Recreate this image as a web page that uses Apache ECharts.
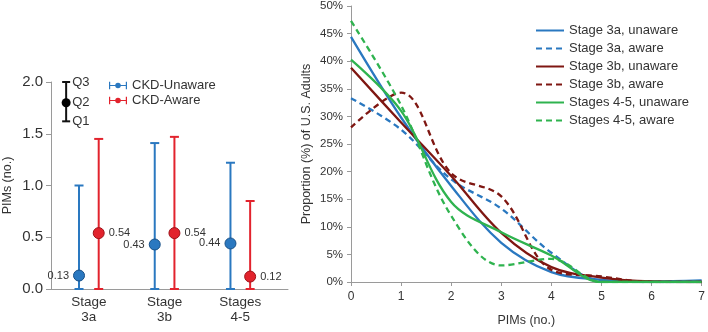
<!DOCTYPE html>
<html>
<head>
<meta charset="utf-8">
<script src="https://cdn.jsdelivr.net/npm/echarts@6/dist/echarts.min.js"></script>
<style>
  html, body { margin: 0; padding: 0; background: #fff; }
  #chart { width: 708px; height: 332px; }
</style>
</head>
<body>
<div id="chart"></div>
<script>
// left panel: median and IQR of PIMs by CKD stage
const stages = ['Stage\n3a', 'Stage\n3b', 'Stages\n4-5'];
const unawareMedian = [0.13, 0.43, 0.44];
const unawareQ1 = [0, 0, 0];
const unawareQ3 = [1.0, 1.41, 1.22];
const awareMedian = [0.54, 0.54, 0.12];
const awareQ1 = [0, 0, 0];
const awareQ3 = [1.45, 1.47, 0.85];
const keyQuartiles = [1.62, 1.8, 2.0]; // Q1, Q2, Q3 of the key

// right panel: distribution of PIM counts
const pimCounts = [0, 1, 2, 3, 4, 5, 6, 7];
const s3aUnaware = [44.4, 29.8, 17.4, 7.1, 1.8, 0.4, 0.1, 0.3];
const s3aAware = [33.3, 27.6, 18.6, 13.3, 5.3, 0.2, 0.0, 0.0];
const s3bUnaware = [38.8, 28.9, 19.2, 8.9, 2.7, 0.8, 0.1, 0.0];
const s3bAware = [28.0, 34.3, 19.7, 15.5, 2.2, 1.0, 0.0, 0.0];
const s45Unaware = [40.3, 31.0, 14.5, 9.0, 4.8, 0.0, 0.0, 0.0];
const s45Aware = [47.3, 32.0, 12.0, 3.0, 4.2, 0.0, 0.0, 0.0];

const BLUE = '#2a78c0';
const RED = '#e2232d';
const MAROON = '#7f1712';
const GREEN = '#2fb34f';
const TXT = '#333333';
const AXIS = '#9a9a9a';
const FONT = '"Liberation Sans", Arial, sans-serif';

const myChart = echarts.init(document.getElementById('chart'));

function errorBar(color) {
  return function (params, api) {
    const x = api.value(0);
    const lo = api.coord([x, api.value(1)]);
    const hi = api.coord([x, api.value(2)]);
    const st = { stroke: color, lineWidth: 2 };
    return {
      type: 'group',
      children: [
        { type: 'line', shape: { x1: lo[0], y1: lo[1], x2: hi[0], y2: hi[1] }, style: st },
        { type: 'line', shape: { x1: hi[0] - 4.5, y1: hi[1], x2: hi[0] + 4.5, y2: hi[1] }, style: st },
        { type: 'line', shape: { x1: lo[0] - 4.5, y1: lo[1], x2: lo[0] + 4.5, y2: lo[1] }, style: st }
      ]
    };
  };
}

function keyItem(params, api) {
  const x = api.value(0);
  const q1 = api.coord([x, api.value(1)]);
  const q2 = api.coord([x, api.value(2)]);
  const q3 = api.coord([x, api.value(3)]);
  const st = { stroke: '#111', lineWidth: 2 };
  const tx = (t, p) => ({
    type: 'text', x: p[0] + 6, y: p[1],
    style: { text: t, fill: TXT, font: '13px ' + FONT, textVerticalAlign: 'middle' }
  });
  return {
    type: 'group',
    children: [
      { type: 'line', shape: { x1: q1[0], y1: q1[1], x2: q3[0], y2: q3[1] }, style: st },
      { type: 'line', shape: { x1: q3[0] - 4, y1: q3[1], x2: q3[0] + 4, y2: q3[1] }, style: st },
      { type: 'line', shape: { x1: q1[0] - 4, y1: q1[1], x2: q1[0] + 4, y2: q1[1] }, style: st },
      { type: 'circle', shape: { cx: q2[0], cy: q2[1], r: 4.5 }, style: { fill: '#000' } },
      tx('Q3', q3), tx('Q2', q2), tx('Q1', q1)
    ]
  };
}

const shift = 0.13;
const unawareX = stages.map((s, i) => i + 0.5 - shift);
const awareX = stages.map((s, i) => i + 0.5 + shift);
const barIcon = 'path://M0,0h1.6v10h-1.6z M22.4,0h1.6v10h-1.6z M0,4.3h24v1.4h-24z M12,1.3a3.7,3.7 0 1,1 -0.01,0z';

const lineDefs = [
  ['Stage 3a, unaware', s3aUnaware, BLUE, 'solid'],
  ['Stage 3a, aware', s3aAware, BLUE, [6, 4]],
  ['Stage 3b, unaware', s3bUnaware, MAROON, 'solid'],
  ['Stage 3b, aware', s3bAware, MAROON, [6, 4]],
  ['Stages 4-5, unaware', s45Unaware, GREEN, 'solid'],
  ['Stages 4-5, aware', s45Aware, GREEN, [6, 4]]
];

let option = {
  animation: false,
  textStyle: { fontFamily: FONT },
  legend: [
    {
      data: ['CKD-Unaware', 'CKD-Aware'],
      left: 104, top: 74, orient: 'vertical', itemGap: 2,
      itemWidth: 18, itemHeight: 8, icon: barIcon,
      textStyle: { fontSize: 13, color: TXT, fontFamily: FONT }
    },
    {
      data: lineDefs.map(d => d[0]),
      left: 530, top: 19, orient: 'vertical', itemGap: 5,
      itemWidth: 28, itemHeight: 13,
      itemStyle: { opacity: 0 },
      textStyle: { fontSize: 13, color: TXT, fontFamily: FONT }
    }
  ],
  grid: [
    { left: 47, top: 82, width: 241, height: 207 },
    { left: 351, top: 5, width: 353, height: 284 }
  ],
  xAxis: [
    {
      gridIndex: 0, type: 'value', min: 0, max: 241 / 77,
      splitLine: { show: false },
      axisLine: { lineStyle: { color: AXIS } },
      axisTick: { show: false },
      axisLabel: {
        customValues: [0.5, 1.5, 2.5],
        formatter: v => stages[Math.round(v - 0.5)] || '',
        fontSize: 13.5, color: TXT, lineHeight: 15, margin: 6
      }
    },
    {
      gridIndex: 1, type: 'value', min: 0, max: 7, interval: 1,
      name: 'PIMs (no.)', nameLocation: 'middle', nameGap: 32,
      nameTextStyle: { fontSize: 12.5, color: TXT },
      splitLine: { show: false },
      axisLine: { lineStyle: { color: AXIS } },
      axisTick: { show: true, length: 4, lineStyle: { color: AXIS } },
      axisLabel: { fontSize: 12, color: TXT, margin: 9 }
    }
  ],
  yAxis: [
    {
      gridIndex: 0, type: 'value', min: 0, max: 2, interval: 0.5,
      name: 'PIMs (no.)', nameLocation: 'middle', nameGap: 37,
      nameTextStyle: { fontSize: 12.5, color: TXT },
      splitLine: { show: false },
      axisLine: { show: true, lineStyle: { color: AXIS } },
      axisTick: { show: true, length: 5, lineStyle: { color: AXIS } },
      axisLabel: { fontSize: 15, color: TXT, formatter: v => v.toFixed(1), margin: 8 }
    },
    {
      gridIndex: 1, type: 'value', min: 0, max: 50, interval: 5,
      name: 'Proportion (%) of U.S. Adults', nameLocation: 'middle', nameGap: 38,
      nameTextStyle: { fontSize: 12.5, color: TXT },
      splitLine: { show: false },
      axisLine: { show: true, lineStyle: { color: AXIS } },
      axisTick: { show: true, length: 4, lineStyle: { color: AXIS } },
      axisLabel: { fontSize: 11.5, color: TXT, formatter: '{value}%', margin: 8 }
    }
  ],
  series: [
    {
      name: 'key', type: 'custom', xAxisIndex: 0, yAxisIndex: 0,
      renderItem: keyItem, data: [[0.2].concat(keyQuartiles)], silent: true
    },
    {
      name: 'CKD-Unaware', type: 'custom', xAxisIndex: 0, yAxisIndex: 0,
      itemStyle: { color: BLUE }, renderItem: errorBar(BLUE),
      data: unawareX.map((x, i) => [x, unawareQ1[i], unawareQ3[i]])
    },
    {
      name: 'CKD-Aware', type: 'custom', xAxisIndex: 0, yAxisIndex: 0,
      itemStyle: { color: RED }, renderItem: errorBar(RED),
      data: awareX.map((x, i) => [x, awareQ1[i], awareQ3[i]])
    },
    {
      name: 'CKD-Unaware', type: 'scatter', xAxisIndex: 0, yAxisIndex: 0,
      symbolSize: 11, z: 5,
      itemStyle: { color: BLUE, borderColor: '#174f86', borderWidth: 1, opacity: 1 },
      label: { show: true, position: 'left', distance: 4, fontSize: 11, color: TXT, formatter: p => p.value[1].toFixed(2) },
      data: unawareX.map((x, i) => [x, unawareMedian[i]])
    },
    {
      name: 'CKD-Aware', type: 'scatter', xAxisIndex: 0, yAxisIndex: 0,
      symbolSize: 11, z: 5,
      itemStyle: { color: RED, borderColor: '#9e1219', borderWidth: 1, opacity: 1 },
      label: { show: true, position: 'right', distance: 4, fontSize: 11, color: TXT, formatter: p => p.value[1].toFixed(2) },
      data: awareX.map((x, i) => [x, awareMedian[i]])
    }
  ].concat(lineDefs.map(d => ({
    name: d[0], type: 'line', xAxisIndex: 1, yAxisIndex: 1,
    smooth: 0.35, symbol: 'none',
    itemStyle: { color: d[2] },
    lineStyle: { color: d[2], width: 2.3, type: d[3] },
    data: pimCounts.map((x, i) => [x, d[1][i]])
  })))
};

myChart.setOption(option);
</script>
</body>
</html>
